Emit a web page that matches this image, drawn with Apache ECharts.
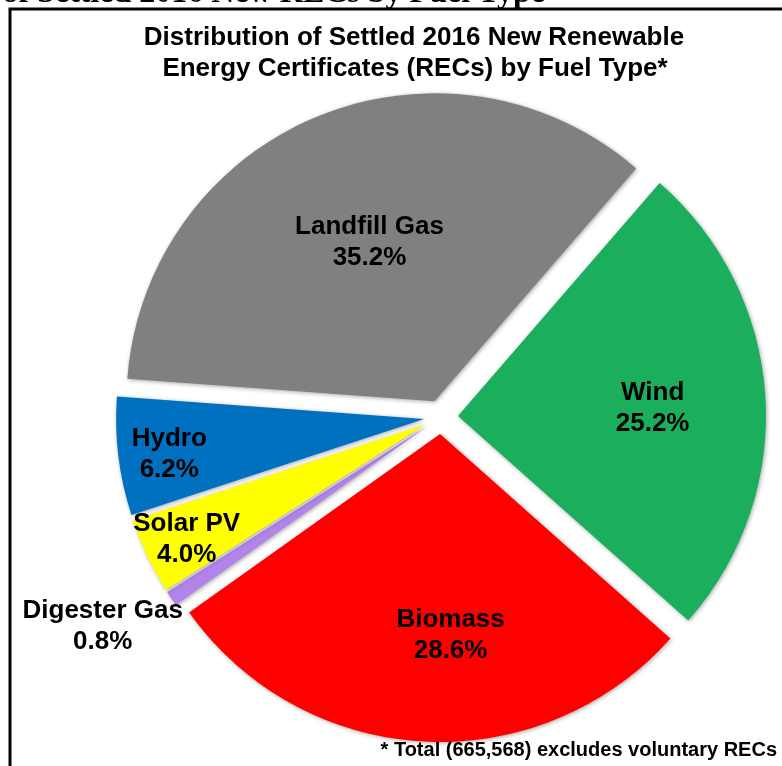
<!DOCTYPE html>
<html>
<head>
<meta charset="utf-8">
<script src="https://cdn.jsdelivr.net/npm/echarts@6/dist/echarts.min.js"></script>
<style>
  html, body { margin: 0; padding: 0; background: #fff; }
  #main { width: 782px; height: 766px; }
</style>
</head>
<body>
<div id="main"></div>
<script>
// slices, clockwise from the top-right (Wind first)
var fuelNames = ['Wind', 'Biomass', 'Digester Gas', 'Solar PV', 'Hydro', 'Landfill Gas'];
var fuelShares = [25.2, 28.6, 0.8, 4.0, 6.2, 35.2];
var fuelColors = ['#1baf5d', '#ff0000', '#b283e8', '#ffff00', '#0070c0', '#808080'];

var titleLines = ['Distribution of Settled 2016 New Renewable', 'Energy Certificates (RECs) by Fuel Type*'];
var footNote = '* Total (665,568) excludes voluntary RECs';
var pageHeading = 'of Settled 2016 New RECs by Fuel Type';

// label nudges from the default inside spot
var labelShift = [[38, 3], [19, 45], [-194, 112], [-97, 48], [-99, 16], [-5, -14]];

var myChart = echarts.init(document.getElementById('main'));

var pieData = [];
for (var i = 0; i < fuelNames.length; i++) {
    pieData.push({
        name: fuelNames[i],
        value: fuelShares[i],
        selected: true,
        itemStyle: { color: fuelColors[i] }
    });
}

var option = {
    animation: false,
    graphic: [
        {
            type: 'polyline',
            shape: { points: [[10, 766], [10, 9], [782, 9]] },
            style: { stroke: '#000', lineWidth: 3, fill: null }
        },
        {
            type: 'text', x: 545, y: -6,
            style: {
                text: pageHeading, textAlign: 'right', textVerticalAlign: 'middle',
                font: 'bold 32px "Liberation Serif", "Times New Roman", serif', fill: '#000'
            }
        },
        {
            type: 'text', x: 414, y: 38,
            style: {
                text: titleLines[0], textAlign: 'center', textVerticalAlign: 'middle',
                font: 'bold 26px "Liberation Sans", Arial, sans-serif', fill: '#000'
            }
        },
        {
            type: 'text', x: 415, y: 69,
            style: {
                text: titleLines[1], textAlign: 'center', textVerticalAlign: 'middle',
                font: 'bold 26px "Liberation Sans", Arial, sans-serif', fill: '#000'
            }
        },
        {
            type: 'text', x: 777, y: 750,
            style: {
                text: footNote, textAlign: 'right', textVerticalAlign: 'middle',
                font: 'bold 20px "Liberation Sans", Arial, sans-serif', fill: '#000'
            }
        }
    ],
    series: [
        {
            type: 'pie',
            center: [441, 417],
            radius: [0, 308],
            startAngle: 49.1,
            clockwise: true,
            selectedMode: 'multiple',
            selectedOffset: 17,
            avoidLabelOverlap: false,
            itemStyle: {
                shadowBlur: 4,
                shadowColor: 'rgba(0,0,0,0.35)',
                shadowOffsetX: 1,
                shadowOffsetY: 1
            },
            label: {
                show: true,
                position: 'inside',
                color: '#000',
                fontFamily: '"Liberation Sans", Arial, sans-serif',
                fontWeight: 'bold',
                fontSize: 26,
                lineHeight: 31,
                formatter: function (p) {
                    return p.name + '\n' + p.value.toFixed(1) + '%';
                }
            },
            labelLine: { show: false },
            labelLayout: function (params) {
                var s = labelShift[params.dataIndex];
                return { dx: s[0], dy: s[1] };
            },
            emphasis: { disabled: true },
            select: { itemStyle: { borderWidth: 0 } },
            data: pieData
        }
    ]
};

myChart.setOption(option);
</script>
</body>
</html>
